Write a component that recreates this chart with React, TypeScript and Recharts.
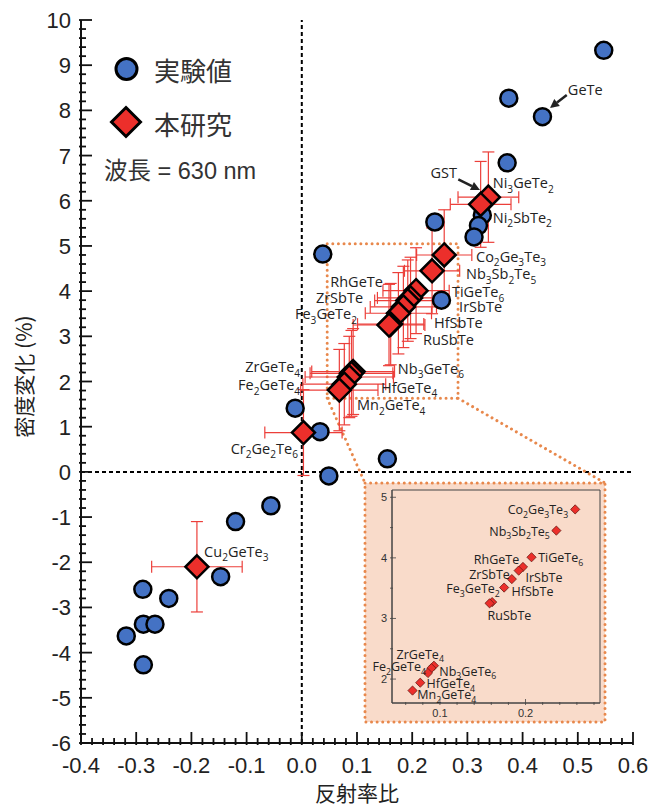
import React from 'react';
import { ScatterChart, Scatter, XAxis, YAxis, ErrorBar, ReferenceLine, ReferenceArea, Legend } from 'recharts';

const LABEL_FONT = '"Open Sans", "Noto Sans", sans-serif';
const TICK_FONT = '"Liberation Sans", Arial, sans-serif';
const CJK_FONT = '"Noto Sans CJK JP", "Liberation Sans", sans-serif';
const MIX_FONT = '"Liberation Sans", "Noto Sans CJK JP", sans-serif';

const BLUE = '#4472C4';
const RED = '#EC2F2B';
const ERR = '#EC3F3A';
const ORANGE = '#E8884C';
const SALMON = '#F9DBCA';

// ---- experimental values (実験値)
const expX = [0.547, 0.375, 0.436, 0.372, 0.241, 0.327, 0.32, 0.312, 0.038, 0.253, -0.012, 0.033, 0.155, 0.049, -0.056, -0.12, -0.147, -0.288, -0.241, -0.287, -0.266, -0.318, -0.287];
const expY = [9.33, 8.27, 7.86, 6.84, 5.53, 5.68, 5.45, 5.2, 4.82, 3.8, 1.41, 0.89, 0.29, -0.09, -0.75, -1.1, -2.32, -2.6, -2.8, -3.37, -3.37, -3.63, -4.27];

// ---- this study (本研究)
const studyNames = ['Ni3GeTe2', 'Ni2SbTe2', 'Co2Ge3Te3', 'Nb3Sb2Te5', 'TiGeTe6', 'IrSbTe', 'RhGeTe', 'ZrSbTe', 'HfSbTe', 'RuSbTe', 'Fe3GeTe2', 'ZrGeTe4', 'Nb3GeTe6', 'Fe2GeTe4', 'HfGeTe4', 'Mn2GeTe4', 'Cr2Ge2Te6', 'Cu2GeTe3'];
const studyX = [0.338, 0.324, 0.258, 0.236, 0.207, 0.197, 0.192, 0.184, 0.175, 0.161, 0.158, 0.093, 0.09, 0.086, 0.077, 0.068, 0.003, -0.19];
const studyY = [6.08, 5.92, 4.8, 4.45, 4.01, 3.85, 3.79, 3.65, 3.51, 3.27, 3.25, 2.22, 2.18, 2.1, 1.94, 1.81, 0.87, -2.1];
const studyErrX = [0.055, 0.055, 0.05, 0.05, 0.06, 0.06, 0.06, 0.06, 0.06, 0.06, 0.065, 0.075, 0.075, 0.08, 0.075, 0.07, 0.07, 0.082];
const studyErrY = [1.0, 0.95, 1.0, 0.95, 0.95, 0.9, 0.9, 0.9, 0.9, 0.9, 0.9, 0.95, 0.95, 0.9, 0.9, 0.9, 0.95, 1.0];

// ---- axes
const xMajorTicks = [-0.4, -0.3, -0.2, -0.1, 0, 0.1, 0.2, 0.3, 0.4, 0.5, 0.6];
const yMajorTicks = [-6, -5, -4, -3, -2, -1, 0, 1, 2, 3, 4, 5, 6, 7, 8, 9, 10];
const insetXMajorTicks = [0.0, 0.1, 0.2, 0.3];
const insetYMajorTicks = [1, 2, 3, 4, 5, 6];

const X_DOMAIN = [-0.4, 0.6];
const Y_DOMAIN = [-6, 10];
const ZOOM_X = [0.046, 0.283];
const ZOOM_Y = [1.63, 5.05];
const INSET_X = [0.044, 0.287];
const INSET_Y = [1.605, 5.12];
const INSET_BOX_X = [0.1145, 0.5493];
const INSET_BOX_Y = [-5.534, -0.2456];

// ---- annotations (data coordinates)
const mainLabelText = ['GeTe', 'GST', 'Ni3GeTe2', 'Ni2SbTe2', 'Co2Ge3Te3', 'Nb3Sb2Te5', 'TiGeTe6', 'IrSbTe', 'HfSbTe', 'RuSbTe', 'Nb3GeTe6', 'HfGeTe4', 'Mn2GeTe4', 'RhGeTe', 'ZrSbTe', 'Fe3GeTe2', 'ZrGeTe4', 'Fe2GeTe4', 'Cr2Ge2Te6', 'Cu2GeTe3'];
const mainLabelX = [0.482, 0.281, 0.346, 0.346, 0.3156, 0.2975, 0.272, 0.285, 0.2395, 0.2196, 0.174, 0.1435, 0.1, 0.147, 0.111, 0.1, -0.003, -0.003, -0.007, -0.177];
const mainLabelY = [8.45, 6.61, 6.39, 5.62, 4.76, 4.38, 3.98, 3.65, 3.29, 2.92, 2.28, 1.86, 1.48, 4.2, 3.85, 3.49, 2.32, 1.92, 0.51, -1.77];
const mainLabelAnchor = ['start', 'end', 'start', 'start', 'start', 'start', 'start', 'start', 'start', 'start', 'start', 'start', 'start', 'end', 'end', 'end', 'end', 'end', 'end', 'start'];

const insetLabelText = ['Co2Ge3Te3', 'Nb3Sb2Te5', 'TiGeTe6', 'RhGeTe', 'ZrSbTe', 'IrSbTe', 'Fe3GeTe2', 'HfSbTe', 'RuSbTe', 'ZrGeTe4', 'Fe2GeTe4', 'Nb3GeTe6', 'HfGeTe4', 'Mn2GeTe4'];
const insetLabelX = [0.2498, 0.2284, 0.2148, 0.1926, 0.1817, 0.2, 0.17, 0.1837, 0.1556, 0.0494, 0.0837, 0.0992, 0.0844, 0.0735];
const insetLabelY = [4.79, 4.44, 4.01, 3.98, 3.72, 3.68, 3.49, 3.45, 3.05, 2.41, 2.2, 2.13, 1.92, 1.74];
const insetLabelAnchor = ['end', 'end', 'start', 'end', 'end', 'start', 'end', 'start', 'start', 'start', 'end', 'start', 'start', 'start'];

const arrowFromX = [0.48, 0.2835];
const arrowFromY = [8.34, 6.475];
const arrowToX = [0.4496, 0.3228];
const arrowToY = [8.05, 6.238];

// ---- derived tables
const subdivide = (major: number[], n: number) => {
  const out: number[] = [];
  for (let i = 0; i < major.length - 1; i++) {
    for (let k = 0; k < n; k++) out.push(+(major[i] + ((major[i + 1] - major[i]) * k) / n).toFixed(4));
  }
  out.push(major[major.length - 1]);
  return out;
};
const xTicks = subdivide(xMajorTicks, 5);
const yTicks = subdivide(yMajorTicks, 5);
const insetXTicks = subdivide(insetXMajorTicks, 5).filter((v) => v > INSET_X[0] && v < INSET_X[1]);
const insetYTicks = subdivide(insetYMajorTicks, 2).filter((v) => v > INSET_Y[0] && v < INSET_Y[1]);

const expData = expX.map((x, i) => ({ x, y: expY[i] }));
const studyData = studyNames.map((name, i) => ({ name, x: studyX[i], y: studyY[i], ex: studyErrX[i], ey: studyErrY[i] }));
const insetData = studyData.filter((d) => d.x > ZOOM_X[0] && d.x < ZOOM_X[1] && d.y > ZOOM_Y[0] && d.y < ZOOM_Y[1]);
const mainLabels = mainLabelText.map((text, i) => ({ text, x: mainLabelX[i], y: mainLabelY[i], anchor: mainLabelAnchor[i] }));
const insetLabels = insetLabelText.map((text, i) => ({ text, x: insetLabelX[i], y: insetLabelY[i], anchor: insetLabelAnchor[i] }));

const isMajor = (v: number, step: number) => Math.abs(v / step - Math.round(v / step)) < 1e-6;

// ---- tick renderers
const BottomTick = (p: any) => {
  const v = p.payload.value;
  const m = isMajor(v, 0.1);
  return (
    <g>
      <line x1={p.x} x2={p.x} y1={p.y} y2={p.y - (m ? 13 : 7)} stroke="#111" strokeWidth={1.8} />
      {m && (
        <text x={p.x} y={p.y + 28} textAnchor="middle" fontSize={22} fontFamily={TICK_FONT} fill="#222">
          {v.toFixed(1)}
        </text>
      )}
    </g>
  );
};
const TopTick = (p: any) => {
  const m = isMajor(p.payload.value, 0.1);
  return <line x1={p.x} x2={p.x} y1={p.y} y2={p.y + (m ? 13 : 7)} stroke="#111" strokeWidth={1.8} />;
};
const LeftTick = (p: any) => {
  const v = p.payload.value;
  const m = isMajor(v, 1);
  return (
    <g>
      <line x1={p.x} x2={p.x + (m ? 13 : 7)} y1={p.y} y2={p.y} stroke="#111" strokeWidth={1.8} />
      {m && (
        <text x={p.x - 8} y={p.y + 8} textAnchor="end" fontSize={22} fontFamily={TICK_FONT} fill="#222">
          {String(Math.round(v))}
        </text>
      )}
    </g>
  );
};
const RightTick = (p: any) => {
  const m = isMajor(p.payload.value, 1);
  return <line x1={p.x} x2={p.x - (m ? 13 : 7)} y1={p.y} y2={p.y} stroke="#111" strokeWidth={1.8} />;
};
const InsetBottomTick = (p: any) => {
  const v = p.payload.value;
  const m = isMajor(v, 0.1);
  return (
    <g>
      <line x1={p.x} x2={p.x} y1={p.y} y2={p.y - (m ? 6 : 3)} stroke="#444" strokeWidth={0.8} />
      {m && (
        <text x={p.x} y={p.y + 12} textAnchor="middle" fontSize={11} fontFamily={TICK_FONT} fill="#333">
          {v.toFixed(1)}
        </text>
      )}
    </g>
  );
};
const InsetLeftTick = (p: any) => {
  const v = p.payload.value;
  const m = isMajor(v, 1);
  return (
    <g>
      <line x1={p.x} x2={p.x + (m ? 6 : 3)} y1={p.y} y2={p.y} stroke="#444" strokeWidth={0.8} />
      {m && (
        <text x={p.x - 3} y={p.y + 4} textAnchor="end" fontSize={11} fontFamily={TICK_FONT} fill="#333">
          {String(Math.round(v))}
        </text>
      )}
    </g>
  );
};

// ---- shapes
const Formula = ({ x, y, text, anchor, fs }: any) => {
  const parts: string[] = text.match(/\d+|\D+/g) || [];
  const shift = fs * 0.3;
  let sub = false;
  const spans = parts.map((s, i) => {
    const num = /^\d+$/.test(s);
    let dy = 0;
    if (num && !sub) {
      dy = shift;
      sub = true;
    } else if (!num && sub) {
      dy = -shift;
      sub = false;
    }
    return (
      <tspan key={i} dy={dy || undefined} fontSize={num ? fs * 0.7 : fs}>
        {s}
      </tspan>
    );
  });
  return (
    <text x={x} y={y + fs * 0.36} textAnchor={anchor} fontFamily={LABEL_FONT} fontSize={fs} fill="#222">
      {spans}
    </text>
  );
};

const diamondPath = (cx: number, cy: number, h: number) => `M${cx},${cy - h}L${cx + h},${cy}L${cx},${cy + h}L${cx - h},${cy}Z`;

const CircleShape = (p: any) => <circle cx={p.cx} cy={p.cy} r={8.5} fill={BLUE} stroke="#000" strokeWidth={2.5} />;
const DiamondShape = (p: any) => <path d={diamondPath(p.cx, p.cy, 11.5)} fill={RED} stroke="#000" strokeWidth={2.5} />;
const SmallDiamond = (p: any) => <path d={diamondPath(p.cx, p.cy, 4.6)} fill={RED} stroke="#6a1a14" strokeWidth={0.8} />;
const MainLabel = (p: any) => <Formula x={p.cx} y={p.cy} text={p.payload.text} anchor={p.payload.anchor} fs={14.5} />;
const InsetLabel = (p: any) => <Formula x={p.cx} y={p.cy} text={p.payload.text} anchor={p.payload.anchor} fs={12.5} />;

const ArrowShape = (p: any) => {
  const { x1, y1, x2, y2 } = p;
  const ang = Math.atan2(y2 - y1, x2 - x1);
  const L = 9;
  const W = 4.5;
  const bx = x2 - L * Math.cos(ang);
  const by = y2 - L * Math.sin(ang);
  const px = -Math.sin(ang) * W;
  const py = Math.cos(ang) * W;
  return (
    <g>
      <line x1={x1} y1={y1} x2={bx} y2={by} stroke="#222" strokeWidth={2.5} />
      <path d={`M${x2},${y2}L${bx + px},${by + py}L${bx - px},${by - py}Z`} fill="#222" />
    </g>
  );
};

const XTitle = (p: any) => {
  const vb = p.viewBox;
  return (
    <text x={vb.x + vb.width / 2} y={vb.y + 58} textAnchor="middle" fontSize={21} fontFamily={CJK_FONT} fill="#222">
      反射率比
    </text>
  );
};
const YTitle = (p: any) => {
  const vb = p.viewBox;
  const cx = 23;
  const cy = vb.y + vb.height / 2 - 5;
  return (
    <text x={cx} y={cy} transform={`rotate(-90, ${cx}, ${cy})`} textAnchor="middle" dominantBaseline="central" fontSize={21} fontFamily={CJK_FONT} fill="#222">
      密度変化 (%)
    </text>
  );
};

const LegendContent = () => (
  <svg width={200} height={160}>
    <circle cx={26.5} cy={29} r={10.5} fill={BLUE} stroke="#000" strokeWidth={3} />
    <text x={54} y={29} dominantBaseline="central" fontSize={26} fontFamily={CJK_FONT} fill="#333">
      実験値
    </text>
    <path d={diamondPath(26, 82, 14.5)} fill={RED} stroke="#000" strokeWidth={3} />
    <text x={54} y={83} dominantBaseline="central" fontSize={26} fontFamily={CJK_FONT} fill="#333">
      本研究
    </text>
    <text x={4} y={131} dominantBaseline="central" fontSize={23.5} fontFamily={MIX_FONT} fill="#333">
      波長 = 630 nm
    </text>
  </svg>
);

const dotted = { stroke: ORANGE, strokeWidth: 3, strokeDasharray: '0.01 5.6', strokeLinecap: 'round' as const };

export default function App() {
  return (
    <div style={{ position: 'absolute', left: 0, top: 0, width: 652, height: 810, background: '#fff' }}>
      <ScatterChart width={652} height={810} margin={{ top: 20, right: 19, bottom: 0, left: 0 }}>
        <XAxis xAxisId="t" orientation="top" type="number" domain={X_DOMAIN} allowDataOverflow ticks={xTicks} interval={0} tickSize={0} tickLine={false} height={0} axisLine={{ stroke: '#111', strokeWidth: 2 }} tick={TopTick} />
        <YAxis yAxisId="r" orientation="right" type="number" domain={Y_DOMAIN} allowDataOverflow ticks={yTicks} interval={0} tickSize={0} tickLine={false} width={0} axisLine={{ stroke: '#111', strokeWidth: 2 }} tick={RightTick} />
        <XAxis xAxisId="b" type="number" dataKey="x" domain={X_DOMAIN} allowDataOverflow ticks={xTicks} interval={0} tickSize={0} tickLine={false} height={67} axisLine={{ stroke: '#111', strokeWidth: 2 }} tick={BottomTick} label={XTitle} />
        <YAxis yAxisId="l" type="number" dataKey="y" domain={Y_DOMAIN} allowDataOverflow ticks={yTicks} interval={0} tickSize={0} tickLine={false} width={81} axisLine={{ stroke: '#111', strokeWidth: 2 }} tick={LeftTick} label={YTitle} />
        <Legend layout="vertical" align="center" verticalAlign="middle" content={LegendContent} wrapperStyle={{ left: 100, top: 40, width: 200, height: 160 }} />
        <ReferenceArea xAxisId="b" yAxisId="l" x1={INSET_BOX_X[0]} x2={INSET_BOX_X[1]} y1={INSET_BOX_Y[0]} y2={INSET_BOX_Y[1]} fill={SALMON} fillOpacity={1} {...dotted} />
        <ReferenceLine xAxisId="b" yAxisId="l" x={0} stroke="#000" strokeWidth={2} strokeDasharray="4 3" />
        <ReferenceLine xAxisId="b" yAxisId="l" y={0} stroke="#000" strokeWidth={2} strokeDasharray="4 3" />
        <ReferenceArea xAxisId="b" yAxisId="l" x1={ZOOM_X[0]} x2={ZOOM_X[1]} y1={ZOOM_Y[0]} y2={ZOOM_Y[1]} fill="none" {...dotted} />
        <ReferenceLine xAxisId="b" yAxisId="l" segment={[{ x: ZOOM_X[0], y: ZOOM_Y[0] }, { x: INSET_BOX_X[0], y: INSET_BOX_Y[1] }]} {...dotted} />
        <ReferenceLine xAxisId="b" yAxisId="l" segment={[{ x: ZOOM_X[1], y: ZOOM_Y[0] }, { x: INSET_BOX_X[1], y: INSET_BOX_Y[1] }]} {...dotted} />
        {arrowFromX.map((fx, i) => (
          <ReferenceLine key={`arrow-${i}`} xAxisId="b" yAxisId="l" segment={[{ x: fx, y: arrowFromY[i] }, { x: arrowToX[i], y: arrowToY[i] }]} shape={ArrowShape} />
        ))}
        <Scatter xAxisId="b" yAxisId="l" name="実験値" data={expData} shape={CircleShape} isAnimationActive={false} />
        <Scatter xAxisId="b" yAxisId="l" name="本研究" data={studyData} shape={DiamondShape} isAnimationActive={false}>
          <ErrorBar dataKey="ex" direction="x" width={6} stroke={ERR} strokeWidth={1.2} isAnimationActive={false} />
          <ErrorBar dataKey="ey" direction="y" width={6} stroke={ERR} strokeWidth={1.2} isAnimationActive={false} />
        </Scatter>
        <Scatter xAxisId="b" yAxisId="l" data={mainLabels} shape={MainLabel} legendType="none" isAnimationActive={false} />
      </ScatterChart>
      <div style={{ position: 'absolute', left: 365, top: 483 }}>
        <ScatterChart width={240} height={239} margin={{ top: 7, right: 5, bottom: 0, left: 0 }}>
          <XAxis type="number" dataKey="x" domain={INSET_X} ticks={insetXTicks} interval={0} tickSize={0} tickLine={false} height={19} axisLine={{ stroke: '#444', strokeWidth: 1 }} tick={InsetBottomTick} />
          <YAxis type="number" dataKey="y" domain={INSET_Y} ticks={insetYTicks} interval={0} tickSize={0} tickLine={false} width={27} axisLine={{ stroke: '#444', strokeWidth: 1 }} tick={InsetLeftTick} />
          <ReferenceArea x1={INSET_X[0]} x2={INSET_X[1]} y1={INSET_Y[0]} y2={INSET_Y[1]} fill="none" stroke="#444" strokeWidth={1} />
          <Scatter data={insetData} shape={SmallDiamond} isAnimationActive={false} />
          <Scatter data={insetLabels} shape={InsetLabel} legendType="none" isAnimationActive={false} />
        </ScatterChart>
      </div>
    </div>
  );
}
